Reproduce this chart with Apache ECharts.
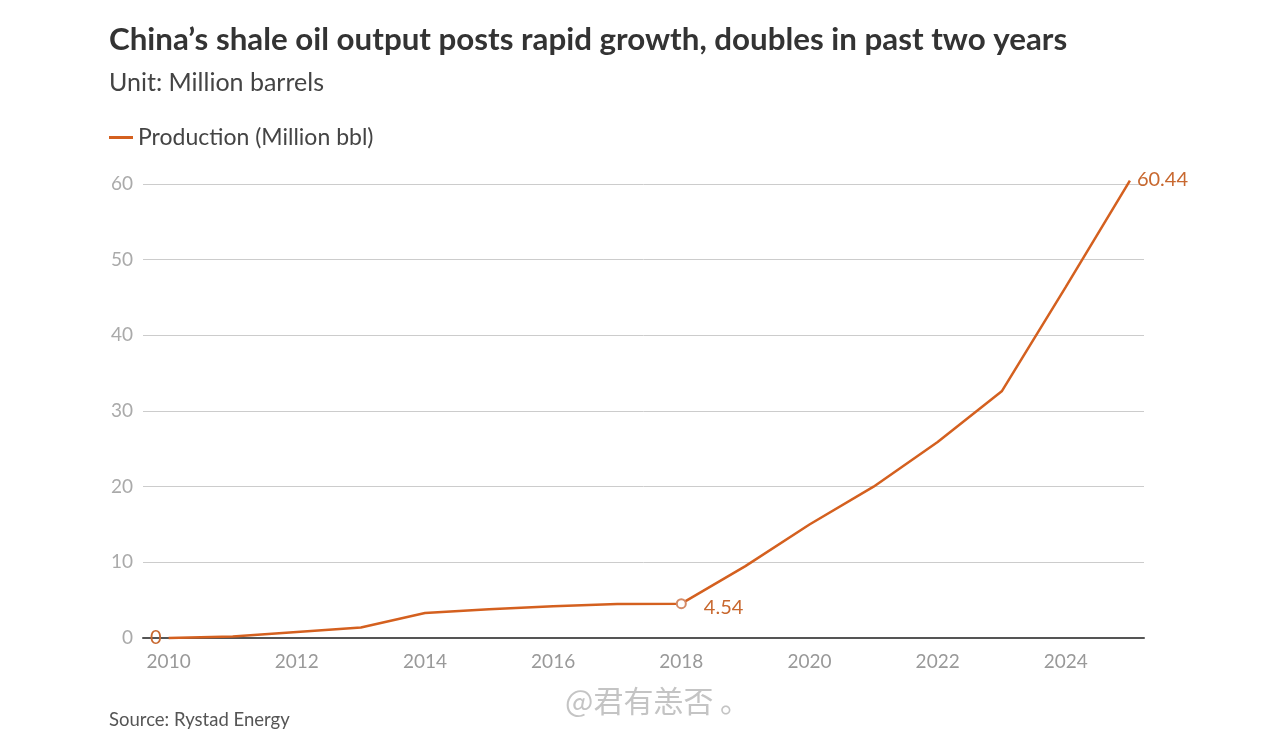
<!DOCTYPE html>
<html><head><meta charset="utf-8">
<script src="https://cdn.jsdelivr.net/npm/echarts@6/dist/echarts.min.js"></script>
<style>html,body{margin:0;padding:0;background:#fff}#c{width:1280px;height:732px}</style>
</head><body><div id="c"></div>
<script>
const years = [2010,2011,2012,2013,2014,2015,2016,2017,2018,2019,2020,2021,2022,2023,2024,2025];
const production = [0,0.2,0.8,1.4,3.3,3.8,4.2,4.5,4.54,9.5,15,20,25.9,32.6,46.4,60.44];
const xTickLabels = [2010,2012,2014,2016,2018,2020,2022,2024];
const yTicks = [0,10,20,30,40,50,60];
const labeledYears = [2010,2018,2025];
const markerYears = [2018];
const seriesName = 'Production (Million bbl)';
const titleText = 'China\u2019s shale oil output posts rapid growth, doubles in past two years';
const subtitleText = 'Unit: Million barrels';
const sourceText = 'Source: Rystad Energy';
const watermarkText = '@君有恙否 。';

const ORANGE = '#d4601f';
const LABEL = '#c8682f';
const FONT = 'Lato, "Open Sans", sans-serif';

const labelPos = {2010:'left',2018:'right',2025:'right'};
const labelOff = {2010:[-2,0],2018:[12,4],2025:[2,-1]};
const data = years.map((y,i)=>{
  const item = {value:[y, production[i]]};
  if (labeledYears.includes(y)) {
    const hasMarker = markerYears.includes(y);
    item.symbol = hasMarker ? 'emptyCircle' : 'circle';
    item.symbolSize = hasMarker ? 9 : 0;
    item.itemStyle = hasMarker ? {color: '#d48a66', borderWidth:1, opacity:1} : {opacity:0};
    item.label = {show:true, position:labelPos[y], offset:labelOff[y], color:LABEL, opacity:1,
      fontSize:20, fontFamily:FONT, formatter: p => String(p.value[1])};
  }
  return item;
});

const chart = echarts.init(document.getElementById('c'), null, {renderer:'canvas'});
chart.setOption({
  animation:false,
  backgroundColor:'#fff',
  textStyle:{fontFamily:FONT},
  graphic:[
    {type:'text', left:109, top:24, style:{text:titleText, fill:'#333', font:'bold 31.3px '+FONT}},
    {type:'text', left:109, top:70, style:{text:subtitleText, fill:'#444', font:'25px '+FONT}},
    {type:'text', left:109, top:711, style:{text:sourceText, fill:'#555', font:'18.5px '+FONT}},
    {type:'text', left:565, top:686, style:{text:watermarkText, fill:'rgba(190,190,190,0.9)', font:'30px "Noto Sans CJK SC", sans-serif'}}
  ],
  legend:{show:true, left:104, top:121, itemWidth:24, itemHeight:3, itemGap:8,
    icon:'rect',
    textStyle:{fontSize:23, color:'#444', fontFamily:FONT},
    data:[{name:seriesName, icon:'rect', itemStyle:{color:ORANGE}}]},
  grid:{left:143, right:136, top:184, bottom:94, containLabel:false},
  xAxis:{type:'value', min:2009.6, max:2025.22,
    axisLine:{show:true, lineStyle:{color:'#555', width:2}},
    axisTick:{show:false}, splitLine:{show:false},
    axisLabel:{customValues:xTickLabels, formatter:v=>String(v), color:'#999', fontSize:19, margin:14, fontFamily:FONT}},
  yAxis:{type:'value', min:0, max:60, interval:10,
    axisLine:{show:false}, axisTick:{show:false},
    splitLine:{lineStyle:{color:'#ccc', width:1}},
    axisLabel:{color:'#aaa', fontSize:19, margin:10, fontFamily:FONT, formatter:v=>String(v)}},
  series:[{name:seriesName, type:'line', data:data, clip:false,
    symbol:'none', showSymbol:true,
    lineStyle:{color:ORANGE, width:2.5}, itemStyle:{color:ORANGE},
    emphasis:{disabled:true}, z:5}]
});
</script></body></html>
